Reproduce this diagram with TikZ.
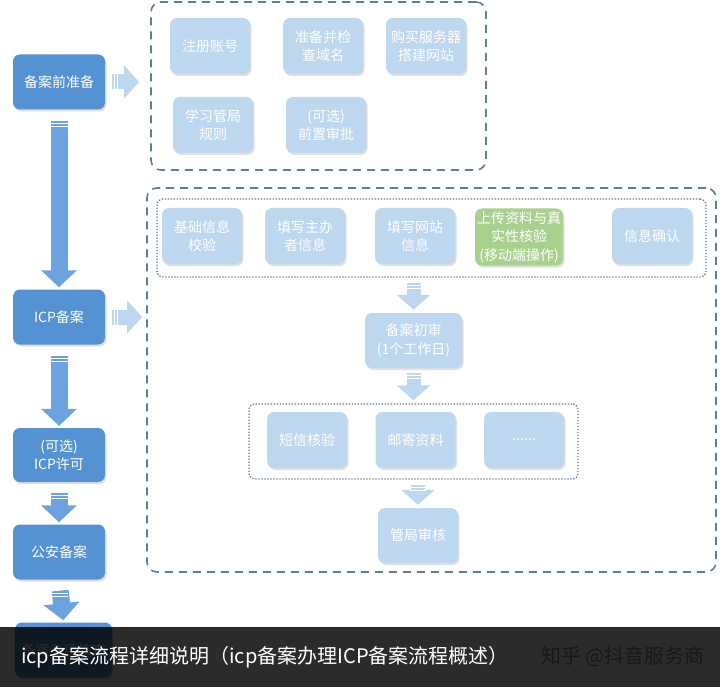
\documentclass[tikz,border=0pt]{standalone}
\usepackage{fontspec}
\setmainfont{Noto Sans CJK SC}
\usepackage{tikz}
\usetikzlibrary{arrows.meta, calc, shadows}
\usepackage{xcolor}

\definecolor{stageblue}{RGB}{84,146,212}
\definecolor{arrowblue}{RGB}{108,162,222}
\definecolor{taskblue}{RGB}{189,215,238}
\definecolor{checkgreen}{RGB}{169,209,142}
\definecolor{groupline}{RGB}{95,125,150}
\definecolor{dotline}{RGB}{100,120,145}
\definecolor{bannergray}{RGB}{43,43,43}
\definecolor{markgray}{RGB}{24,24,24}

% block arrows, two thin marks at the tail
\newcommand{\fatdown}[5]{%
    \draw[#1] (#2) -- (#3);
    \draw[white, line width=0.9pt]
        ($(#2)+(-#4,#5)$) -- ++(2*#4,0)
        ($(#2)+(-#4,#5+3)$) -- ++(2*#4,0);
}
\newcommand{\fatright}[5]{%
    \draw[#1] (#2) -- (#3);
    \draw[white, line width=0.9pt]
        ($(#2)+(#5,-#4)$) -- ++(0,2*#4)
        ($(#2)+(#5+3,-#4)$) -- ++(0,2*#4);
}

\begin{document}
\begin{tikzpicture}[
    x = 1pt, y = -1pt,
    font = \fontsize{14}{18.5}\selectfont,
    stage/.style = {
        rectangle, rounded corners=7pt,
        fill = stageblue, text = white,
        minimum width  = 92pt,
        minimum height = 55pt,
        align = center, inner sep = 2pt,
        drop shadow = {shadow xshift=1.5pt, shadow yshift=-2pt, opacity=0.25}
    },
    task/.style = {
        rectangle, rounded corners=7pt,
        fill = taskblue, text = white,
        minimum width  = 80pt,
        minimum height = 56pt,
        align = center, inner sep = 2pt,
        drop shadow = {shadow xshift=1.5pt, shadow yshift=-2pt, opacity=0.25}
    },
    mobile/.style = { task, fill = checkgreen },
    group/.style = {
        rectangle, rounded corners=10pt,
        draw = groupline, line width = 1.6pt,
        dash pattern = on 8pt off 6pt
    },
    subgroup/.style = {
        rectangle, rounded corners=6pt,
        draw = dotline, line width = 1.3pt,
        dash pattern = on 1.3pt off 1.7pt
    },
    bigarrow/.style = {
        draw = arrowblue, line width = 17pt,
        -{Triangle[width=35pt, length=17pt]},
        shorten <= 11pt, shorten >= 2pt
    },
    sidearrow/.style = {
        draw = taskblue, line width = 15pt,
        -{Triangle[width=32pt, length=15pt]},
        shorten <= 7pt
    },
    smallarrow/.style = {
        draw = taskblue, line width = 14pt,
        -{Triangle[width=33pt, length=15pt]},
        shorten <= 5pt, shorten >= 3pt
    },
]

\useasboundingbox (0,0) rectangle (720,687);

%% ── Left column ──────────────────────────────────────────────────────────
\node[stage] (prep) at (59,82)  {备案前准备};
\node[stage] (icp)  at (59,317) {ICP备案};
\node[stage, minimum height=54pt] (lic) at (59,455) {(可选)\\ICP许可};
\node[stage] (psb)  at (59,552) {公安备案};
\node[stage, minimum width=97pt] (spec) at (63.5,650) {备案专项核查};

\fatdown{bigarrow}{prep.south}{icp.north}{9}{13.5}
\fatdown{bigarrow}{icp.south}{lic.north}{9}{13.5}
\fatdown{bigarrow}{lic.south}{psb.north}{9}{13.5}
\fatdown{bigarrow}{psb.south}{spec.north}{9}{13.5}

%% ── Preparation group ────────────────────────────────────────────────────
\node[group, minimum width=335pt, minimum height=168pt] (prepbox) at (318.5,86) {};

\node[task] (reg)  at (210,46)  {注册账号};
\node[task] (dom)  at (323,46)  {准备并检\\查域名};
\node[task] (srv)  at (426,46)  {购买服务器\\搭建网站};
\node[task] (rule) at (213,125) {学习管局\\规则};
\node[task] (pre)  at (326,125) {(可选)\\前置审批};

\fatright{sidearrow, shorten >=11pt}{prep.east}{prep.east -| prepbox.west}{8}{9.5}

%% ── ICP filing group ─────────────────────────────────────────────────────
\node[group, minimum width=569pt, minimum height=384pt] (icpbox) at (431.5,380) {};

\node[subgroup, minimum width=549pt, minimum height=78pt] (fillbox) at (431.5,238) {};
\node[task] (basic)   at (202,236) {基础信息\\校验};
\node[task] (host)    at (305,236) {填写主办\\者信息};
\node[task] (site)    at (415,236) {填写网站\\信息};
\node[mobile, minimum height=57pt] (upload) at (519,237) {上传资料与真\\实性核验\\(移动端操作)};
\node[task] (confirm) at (652,236) {信息确认};

\node[task, minimum width=97pt, minimum height=55pt] (review) at (413.5,340.5) {备案初审\\(1个工作日)};

\node[subgroup, minimum width=329pt, minimum height=75pt] (checkbox) at (413.5,441.5) {};
\node[task] (sms)  at (307,440)   {短信核验};
\node[task] (mail) at (415.5,440) {邮寄资料};
\node[task] (more) at (524,440)   {......};

\node[task, minimum height=55pt] (bureau) at (418,535.5) {管局审核};

\fatright{sidearrow, shorten >=4pt}{icp.east}{icp.east -| icpbox.west}{8}{9.5}
\fatdown{smallarrow}{fillbox.south -| review}{review.north}{8}{7.5}
\fatdown{smallarrow}{review.south}{review.south |- checkbox.north}{8}{7.5}
\fatdown{smallarrow}{checkbox.south -| bureau}{bureau.north}{8}{7.5}

%% ── Caption banner ───────────────────────────────────────────────────────
\fill[black, opacity=0.83] (0,627) rectangle (540,687);
\fill[bannergray] (540,627) rectangle (720,687);
\node[anchor=west, text=white, inner sep=0pt,
      font=\fontsize{20}{22}\selectfont] (caption) at (21,657)
    {icp备案流程详细说明（icp备案办理ICP备案流程概述）};
\node[anchor=east, text=markgray, inner sep=0pt,
      font=\fontsize{20}{22}\selectfont] (mark) at (705,657)
    {知乎 @抖音服务商};

\end{tikzpicture}
\end{document}
